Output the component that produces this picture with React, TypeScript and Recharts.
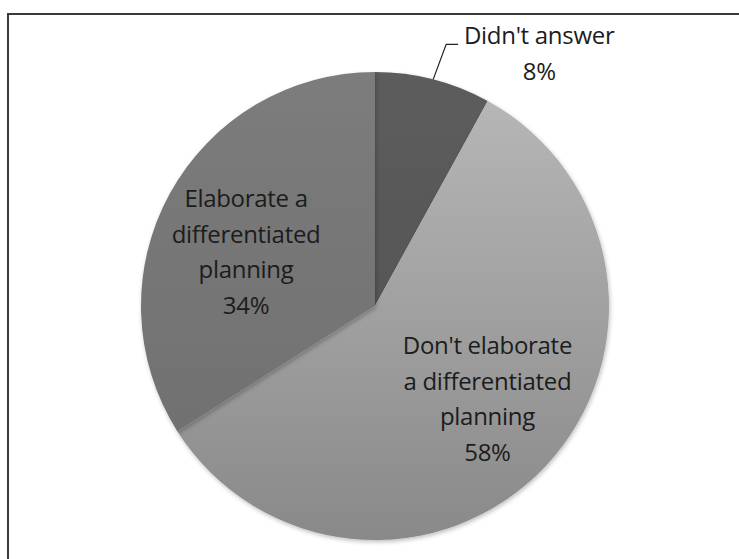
import { PieChart, Pie, Cell } from 'recharts';

const categories = ["Didn't answer", "Don't elaborate a differentiated planning", 'Elaborate a differentiated planning'];
const shares = [8, 58, 34];
const labelLines = [
  ["Didn't answer", '8%'],
  ["Don't elaborate", 'a differentiated', 'planning', '58%'],
  ['Elaborate a', 'differentiated', 'planning', '34%'],
];

const data = categories.map((name, i) => ({ name, value: shares[i] }));
const fills = ['url(#gDark)', 'url(#gLight)', 'url(#gMid)'];

const RAD = Math.PI / 180;
const FONT = '"Open Sans", sans-serif';
const FONT_SIZE = 24;
const LINE_H = 35.5;

function renderLabel(props: any) {
  const { cx, cy, midAngle, outerRadius, index } = props;
  const lines = labelLines[index];
  const cos = Math.cos(-midAngle * RAD);
  const sin = Math.sin(-midAngle * RAD);

  if (index === 0) {
    // outside label with leader line
    const sx = cx + outerRadius * cos;
    const sy = cy + outerRadius * sin;
    const mx = sx + 13;
    const my = sy - 35;
    const ex = mx + 12;
    const tx = ex + 81;
    return (
      <g>
        <path d={`M${sx},${sy}L${mx},${my}L${ex},${my}`} stroke="#222" strokeWidth={1.2} fill="none" />
        <text x={tx} y={my} textAnchor="middle" fontFamily={FONT} fontSize={FONT_SIZE} letterSpacing={-0.3} fill="#1c1c1c">
          <tspan x={tx} dy={0}>{lines[0]}</tspan>
          <tspan x={tx} dy={36}>{lines[1]}</tspan>
        </text>
      </g>
    );
  }

  const frac = index === 1 ? 0.62 : 0.6;
  const shift = index === 1 ? 4 : 5.5;
  const ang = -(midAngle + shift) * RAD;
  const lx = cx + outerRadius * frac * Math.cos(ang);
  const ly = cy + outerRadius * frac * Math.sin(ang);
  const top = ly - ((lines.length - 1) * LINE_H) / 2;
  return (
    <text x={lx} y={top} textAnchor="middle" dominantBaseline="central" fontFamily={FONT} fontSize={FONT_SIZE} letterSpacing={-0.3} fill="#1c1c1c">
      {lines.map((l, i) => (
        <tspan key={i} x={lx} y={top + i * LINE_H}>
          {l}
        </tspan>
      ))}
    </text>
  );
}

export default function App() {
  return (
    <div style={{ position: 'absolute', left: 0, top: 0, width: 739, height: 559, background: '#fff', overflow: 'hidden' }}>
      <div
        style={{
          position: 'absolute',
          left: 7,
          top: 13,
          width: 740,
          height: 560,
          borderLeft: '2px solid #3a3a3a',
          borderTop: '2px solid #3a3a3a',
        }}
      />
      <div style={{ position: 'absolute', left: 0, top: 0 }}>
        <PieChart width={739} height={559}>
          <defs>
            <linearGradient id="gLight" x1="0" y1="0" x2="0" y2="1">
              <stop offset="0%" stopColor="#b6b6b6" />
              <stop offset="100%" stopColor="#898989" />
            </linearGradient>
            <linearGradient id="gMid" x1="0" y1="0" x2="0" y2="1">
              <stop offset="0%" stopColor="#7c7c7c" />
              <stop offset="100%" stopColor="#717171" />
            </linearGradient>
            <linearGradient id="gDark" x1="0" y1="0" x2="0" y2="1">
              <stop offset="0%" stopColor="#5c5c5c" />
              <stop offset="100%" stopColor="#575757" />
            </linearGradient>
            <filter id="soft" x="-10%" y="-10%" width="120%" height="120%">
              <feDropShadow dx="1" dy="2" stdDeviation="2" floodColor="#000" floodOpacity="0.25" />
            </filter>
          </defs>
          <Pie
            data={data}
            dataKey="value"
            nameKey="name"
            cx={370}
            cy={301}
            outerRadius={234}
            startAngle={90}
            endAngle={-270}
            stroke="none"
            label={renderLabel}
            labelLine={false}
            isAnimationActive={false}
            style={{ filter: 'url(#soft)' }}
          >
            {data.map((d, i) => (
              <Cell key={d.name} fill={fills[i]} />
            ))}
          </Pie>
        </PieChart>
      </div>
    </div>
  );
}
